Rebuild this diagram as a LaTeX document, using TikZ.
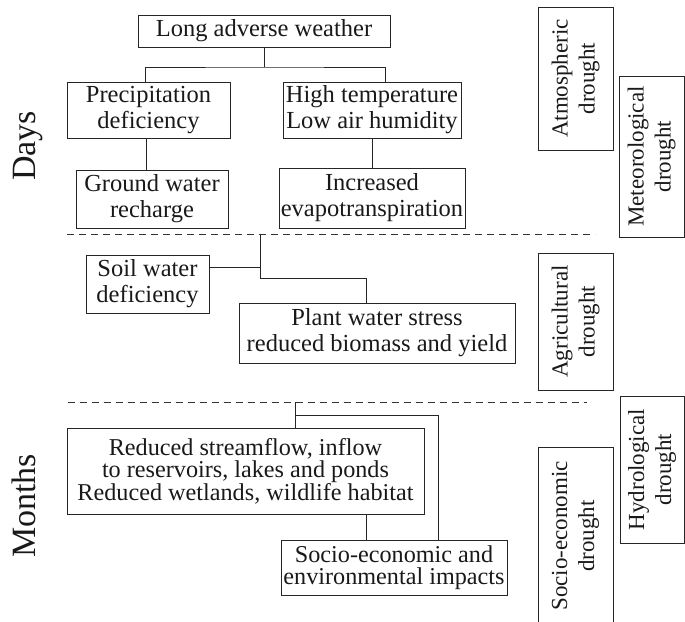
\documentclass[tikz,border=0pt]{standalone}
\usepackage{fontspec}
\setmainfont{Liberation Serif}
\begin{document}
\begin{tikzpicture}[x=1pt,y=-1pt,
  bx/.style={draw=black!85, line width=1pt, inner sep=0pt, align=center, text=black!90, font=\fontsize{24.5}{26}\selectfont},
  tight/.style={font=\fontsize{24.2}{22}\selectfont},
  vbx/.style={bx, rotate=90, font=\fontsize{23}{27}\selectfont},
  ln/.style={draw=black!85, line width=1pt},
  dl/.style={draw=black!80, line width=1pt, dash pattern=on 7pt off 5pt},
  big/.style={font=\fontsize{34}{40}\selectfont, rotate=90, anchor=base, inner sep=0pt, text=black!90}]
\useasboundingbox (0,0) rectangle (685,621);
\clip (0,0) rectangle (685,621);
% left time labels
\node[big] (days) at (35,146) {Days};
\node[big] (months) at (35,506) {Months};
% main boxes
\node[bx, minimum width=252pt, minimum height=32pt] (top) at (264,31) {Long adverse weather};
\node[bx, minimum width=163pt, minimum height=56pt] (prec) at (148.5,110) {Precipitation\\deficiency};
\node[bx, minimum width=178pt, minimum height=56pt] (high) at (372,110) {High temperature\\Low air humidity};
\node[bx, minimum width=152pt, minimum height=58pt] (ground) at (152,199) {Ground water\\recharge};
\node[bx, minimum width=186pt, minimum height=60pt] (incr) at (372,198) {Increased\\evapotranspiration};
\node[bx, minimum width=123pt, minimum height=58pt] (soil) at (147.5,284) {Soil water\\deficiency};
\node[bx, minimum width=276pt, minimum height=60pt] (plant) at (377,333) {Plant water stress\\reduced biomass and yield};
\node[bx, tight, minimum width=357pt, minimum height=86pt] (red) at (245.5,471) {Reduced streamflow, inflow\\to reservoirs, lakes and ponds\\Reduced wetlands, wildlife habitat};
\node[bx, tight, minimum width=226pt, minimum height=55pt] (socio) at (394,567.5) {Socio-economic and\\environmental impacts};
% right drought boxes
\node[vbx, minimum width=143pt, minimum height=75pt] (atm) at (575.5,78.5) {Atmospheric\\drought};
\node[vbx, minimum width=161pt, minimum height=65pt] (met) at (651.5,156.5) {Meteorological\\drought};
\node[vbx, minimum width=137pt, minimum height=75pt] (agri) at (575.5,321.5) {Agricultural\\drought};
\node[vbx, minimum width=147pt, minimum height=64pt] (hydro) at (652,469.5) {Hydrological\\drought};
\node[vbx, minimum width=178pt, minimum height=75pt] (socdr) at (575.5,536) {Socio-economic\\drought};
% dashed separators
\coordinate (d1l) at (67,234);
\coordinate (d1r) at (595,234);
\coordinate (d2l) at (68,402);
\coordinate (d2r) at (587,402);
\draw[dl] (d1l) -- (d1r);
\draw[dl] (d2l) -- (d2r);
% connectors, top part
\coordinate (b1) at (264,67);
\draw[ln] (top.south) -- (b1);
\draw[ln] ([xshift=-3.5pt]prec.north) |- (b1) -| ([xshift=13pt]high.north);
\draw[ln] ([xshift=-2pt]prec.south) -- ([xshift=-2pt]prec.south |- ground.north);
\draw[ln] (high.south) -- (incr.north);
% middle part
\coordinate (c1) at (260,234);
\coordinate (c1b) at (260,278);
\coordinate (s1) at ([yshift=17pt]soil.east);
\draw[ln] (c1) -- (c1b) -| ([xshift=-11pt]plant.north);
\draw[ln] (s1) -- (s1 -| c1);
% lower part
\coordinate (c2) at (295,402);
\coordinate (c2b) at (295,415);
\draw[ln] (c2) -- (c2 |- red.north);
\draw[ln] (c2b) -| ([xshift=44pt]socio.north);
\draw[ln] ([xshift=120.5pt]red.south) -- ([xshift=120.5pt]red.south |- socio.north);
\end{tikzpicture}
\end{document}
